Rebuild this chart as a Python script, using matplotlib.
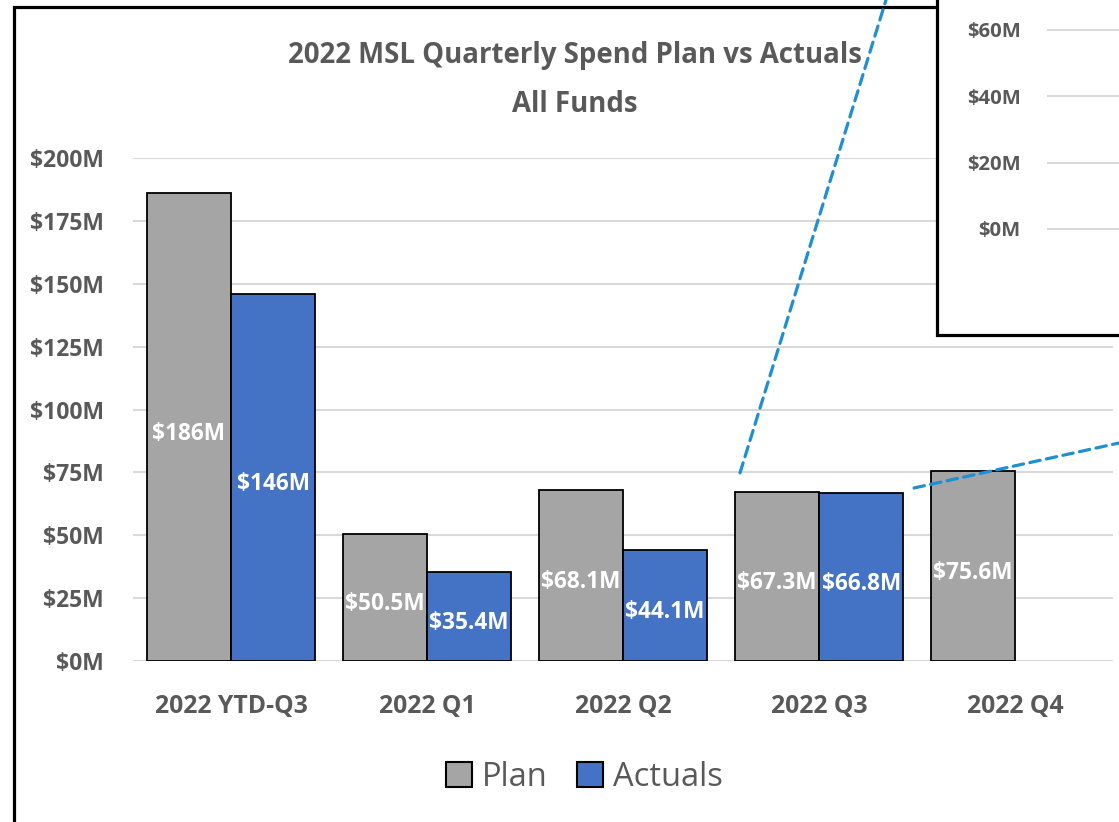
import numpy as np
import matplotlib
matplotlib.use("Agg")
import matplotlib.pyplot as plt
from matplotlib.patches import Rectangle, ConnectionPatch, Patch

plt.rcParams["font.family"] = ["Open Sans", "DejaVu Sans"]

categories = ["2022 YTD-Q3", "2022 Q1", "2022 Q2", "2022 Q3", "2022 Q4"]
plan = [186, 50.5, 68.1, 67.3, 75.6]
actuals = [146, 35.4, 44.1, 66.8, np.nan]
plan_labels = ["$186M", "$50.5M", "$68.1M", "$67.3M", "$75.6M"]
actual_labels = ["$146M", "$35.4M", "$44.1M", "$66.8M", ""]
main_ticks = [0, 25, 50, 75, 100, 125, 150, 175, 200]
inset_ticks = [0, 20, 40, 60]

GREY = "#595959"
PLAN_C = "#A5A5A5"
ACT_C = "#4472C4"
GRID_C = "#D9D9D9"
DASH_C = "#1F8FD3"

W, H = 1119, 822
fig = plt.figure(figsize=(W / 100, H / 100), dpi=100)

def fx(px):
    return px / W

def fy(py):
    return 1 - py / H

# outer frame of the main chart
fig.add_artist(Rectangle((fx(14), -0.05), 1.2, fy(7) + 0.05, transform=fig.transFigure,
                         fill=False, edgecolor="black", linewidth=2.3, zorder=1))

ax = fig.add_axes([fx(133), fy(661), fx(1113) - fx(133), fy(158) - fy(661)])
ax.set_facecolor("none")
x = np.arange(len(categories))
bw = 0.43
b1 = ax.bar(x - bw / 2, plan, bw, color=PLAN_C, edgecolor="black", linewidth=1.3, label="Plan", zorder=2)
b2 = ax.bar(x + bw / 2, actuals, bw, color=ACT_C, edgecolor="black", linewidth=1.3, label="Actuals", zorder=2)
for bars, labels in [(b1, plan_labels), (b2, actual_labels)]:
    for rect, lab in zip(bars, labels):
        if not lab:
            continue
        ax.annotate(lab, (rect.get_x() + rect.get_width() / 2, rect.get_height() / 2),
                    xytext=(0, -5), textcoords="offset points", ha="center", va="center",
                    color="white", fontsize=16.3, fontweight="bold", zorder=3)

ax.set_xlim(-0.5, len(categories) - 0.5)
ax.set_ylim(0, 200)
ax.set_yticks(main_ticks)
ax.set_yticklabels([f"${t}M" for t in main_ticks])
ax.set_xticks(x)
ax.set_xticklabels(categories)
ax.tick_params(axis="both", length=0, colors=GREY)
ax.tick_params(axis="y", pad=21, labelsize=16.5)
ax.tick_params(axis="x", pad=24, labelsize=17.8)
for t in ax.get_xticklabels() + ax.get_yticklabels():
    t.set_fontweight("bold")
ax.grid(axis="y", color=GRID_C, linewidth=1.5, zorder=0)
ax.set_axisbelow(True)
for s in ax.spines.values():
    s.set_visible(False)

fig.text(fx(575), fy(56), "2022 MSL Quarterly Spend Plan vs Actuals", ha="center", va="center",
         fontsize=19.9, fontweight="bold", color=GREY)
fig.text(fx(575), fy(104), "All Funds", ha="center", va="center",
         fontsize=19.9, fontweight="bold", color=GREY)

handles = [Patch(facecolor=PLAN_C, edgecolor="black", linewidth=1.5, label="Plan"),
           Patch(facecolor=ACT_C, edgecolor="black", linewidth=1.5, label="Actuals")]
leg = fig.legend(handles=handles, loc="center", bbox_to_anchor=(fx(584), fy(777)), ncol=2,
                 frameon=False, fontsize=23.5, handlelength=0.8, handleheight=0.8,
                 handletextpad=0.3, columnspacing=0.9)
for t in leg.get_texts():
    t.set_color(GREY)

# inset zoom panel (partly cut off at top right)
fig.add_artist(Rectangle((fx(937), fy(335)), 0.3, 1 - fy(335) + 0.05, transform=fig.transFigure,
                         facecolor="white", edgecolor="black", linewidth=2.3, zorder=2))
iax = fig.add_axes([fx(1047), fy(300), 0.1, 300 / H])
iax.set_zorder(3)
iax.set_facecolor("none")
iax.set_ylim(-21.4, 69.0)
iax.set_xlim(0, 1)
iax.set_yticks(inset_ticks)
iax.set_yticklabels([f"${t}M" for t in inset_ticks])
iax.set_xticks([])
iax.tick_params(axis="y", length=0, colors=GREY, labelsize=14.6, pad=19)
for t in iax.get_yticklabels():
    t.set_fontweight("bold")
iax.grid(axis="y", color=GRID_C, linewidth=1.5)
for s in iax.spines.values():
    s.set_visible(False)

# dashed zoom connectors from the Q3 group
q3 = 3
for xa, ya, xb, yb in [(q3 - 0.403, 74.8, fx(886), 1.0), (q3 + 0.485, 68.8, 1.0, fy(443))]:
    con = ConnectionPatch(xyA=(xa, ya), coordsA=ax.transData, xyB=(xb, yb), coordsB=fig.transFigure,
                          color=DASH_C, linewidth=2.3, linestyle=(0, (3.3, 2)), zorder=4)
    fig.add_artist(con)

fig.savefig("out.png", dpi=100)
